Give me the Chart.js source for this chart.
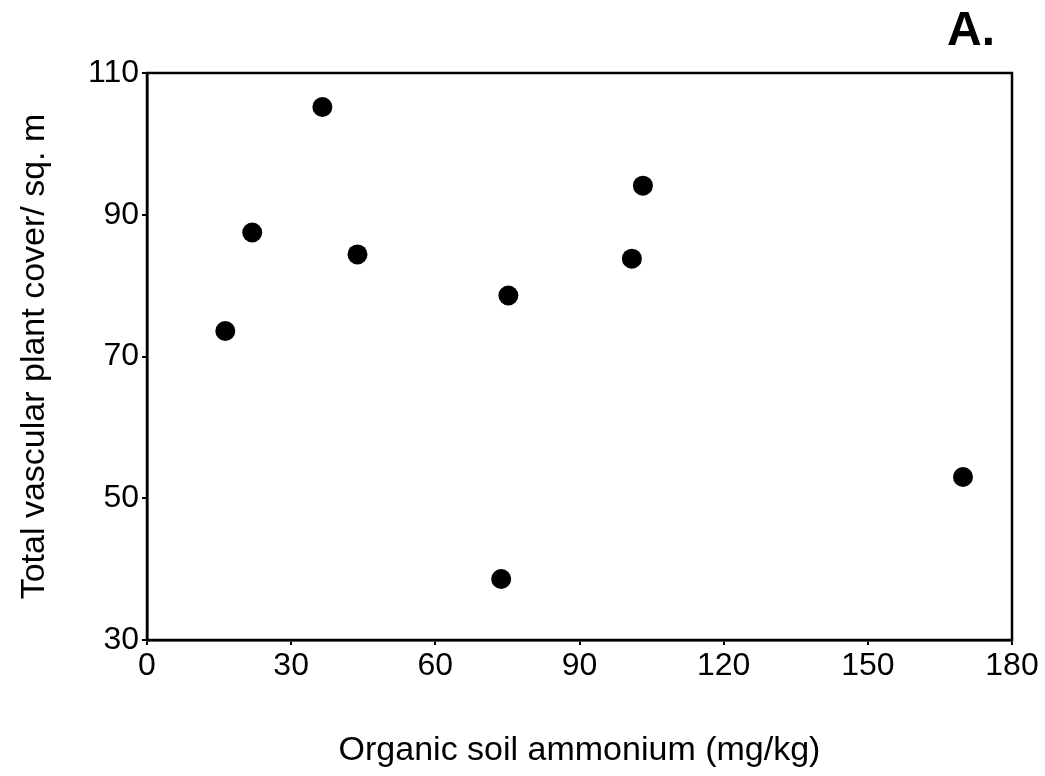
<!DOCTYPE html>
<html>
<head>
<meta charset="utf-8">
<script src="https://cdn.jsdelivr.net/npm/chart.js@4/dist/chart.umd.min.js"></script>
<style>
html,body{margin:0;padding:0;background:#fff;}
#wrap{width:1045px;height:776px;position:relative;}
</style>
</head>
<body>
<div id="wrap"><canvas id="c"></canvas></div>
<script>
const ammonium = [36.5, 21.9, 43.8, 16.3, 100.9, 75.2, 73.7, 103.2, 169.8];
const cover    = [105.2, 87.5, 84.4, 73.6, 83.8, 78.6, 38.6, 94.1, 53.0];
const xTicks = [0, 30, 60, 90, 120, 150, 180];
const yTicks = [30, 50, 70, 90, 110];
const xTitle = "Organic soil ammonium (mg/kg)";
const yTitle = "Total vascular plant cover/ sq. m";
const panelLabel = "A.";

const FONT = "'Liberation Sans', Arial, sans-serif";

const boxPlugin = {
  id: 'box',
  afterDraw(chart) {
    const {ctx, chartArea: a} = chart;
    ctx.save();
    ctx.strokeStyle = '#000';
    ctx.lineWidth = 2.5;
    ctx.strokeRect(a.left, a.top, a.right - a.left, a.bottom - a.top);
    ctx.fillStyle = '#000';
    ctx.font = "bold 48px " + FONT;
    ctx.textAlign = 'right';
    ctx.textBaseline = 'alphabetic';
    ctx.fillText(panelLabel, 995, 45);
    ctx.restore();
  }
};

new Chart(document.getElementById('c'), {
  type: 'scatter',
  data: {
    datasets: [{
      data: ammonium.map((x, i) => ({x: x, y: cover[i]})),
      backgroundColor: '#000',
      borderColor: '#000',
      pointRadius: 10,
      pointHoverRadius: 10,
      borderWidth: 0
    }]
  },
  options: {
    responsive: true,
    maintainAspectRatio: false,
    animation: false,
    events: [],
    layout: {padding: {left: 14, right: 33, top: 73, bottom: 5}},
    plugins: {legend: {display: false}, tooltip: {enabled: false}},
    scales: {
      x: {
        type: 'linear',
        min: 0, max: 180,
        afterBuildTicks(s) { s.ticks = xTicks.map(v => ({value: v})); },
        afterFit(s) { s.height = 776 - 640 - 5; },
        grid: {drawOnChartArea: false, color: '#000', tickLength: 5, lineWidth: 2},
        border: {display: true, color: '#000', width: 2.5},
        ticks: {color: '#000', font: {family: FONT, size: 32}, padding: 2, maxRotation: 0},
        title: {display: true, text: xTitle, color: '#000', font: {family: FONT, size: 34}, padding: {top: 30, bottom: 0}}
      },
      y: {
        type: 'linear',
        min: 30, max: 110,
        afterBuildTicks(s) { s.ticks = yTicks.map(v => ({value: v})); },
        afterFit(s) { s.width = 147 - 14; },
        grid: {drawOnChartArea: false, color: '#000', tickLength: 5, lineWidth: 2},
        border: {display: true, color: '#000', width: 2.5},
        ticks: {color: '#000', font: {family: FONT, size: 32}, padding: 3},
        title: {display: true, text: yTitle, color: '#000', font: {family: FONT, size: 34}, padding: {top: 0, bottom: 0}}
      }
    }
  },
  plugins: [boxPlugin]
});
</script>
</body>
</html>
